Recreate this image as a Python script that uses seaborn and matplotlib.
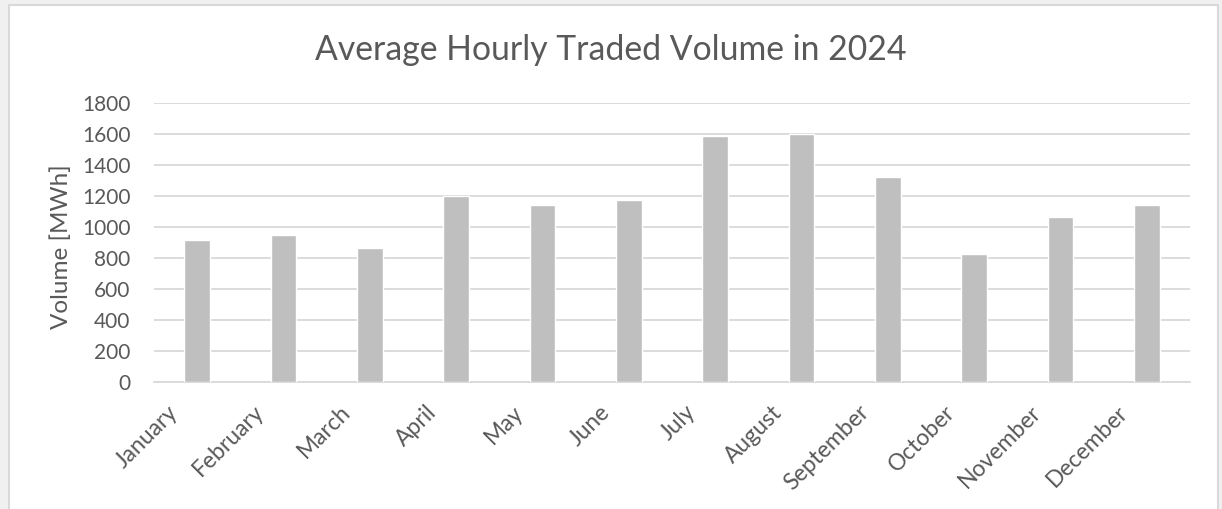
import matplotlib
matplotlib.use("Agg")
import matplotlib.pyplot as plt
import matplotlib.transforms as mtransforms
import seaborn as sns
import pandas as pd
from matplotlib.patches import Rectangle

months = ["January", "February", "March", "April", "May", "June",
          "July", "August", "September", "October", "November", "December"]
volume = [916, 948, 867, 1200, 1140, 1174, 1589, 1600, 1323, 826, 1067, 1140]
y_ticks = [0, 200, 400, 600, 800, 1000, 1200, 1400, 1600, 1800]

df = pd.DataFrame({"month": months, "volume": volume})

sns.set_theme(style="white")
plt.rcParams["font.family"] = ["Lato", "DejaVu Sans"]

text_col = "#595959"

fig = plt.figure(figsize=(12.22, 5.09), dpi=100, facecolor="#f0f0f0")
# white chart box with light border, behind the axes
fig.patches.append(Rectangle((9 / 1222, -0.05), 1209 / 1222, 1.05 - 5 / 509,
                             transform=fig.transFigure, facecolor="white",
                             edgecolor="#d9d9d9", linewidth=1.5, zorder=-5))

ax = fig.add_axes([154 / 1222, 1 - 382 / 509, 1036 / 1222, 279 / 509])
ax.set_facecolor("none")
ax.set_zorder(2)

sns.barplot(data=df, x="month", y="volume", color="#bfbfbf", width=0.3,
            saturation=1, ax=ax, zorder=3)

ax.set_ylim(0, 1800)
ax.set_xlim(-0.5, 11.5)
ax.set_yticks(y_ticks)
ax.yaxis.grid(True, color="#d9d9d9", linewidth=1.3, zorder=0)
ax.set_axisbelow(True)
for s in ["top", "right", "left"]:
    ax.spines[s].set_visible(False)
ax.spines["bottom"].set_color("#d9d9d9")
ax.spines["bottom"].set_linewidth(1.3)

ax.tick_params(axis="both", length=0, colors=text_col)
ax.tick_params(axis="y", pad=17, labelsize=15)
ax.tick_params(axis="x", pad=14, labelsize=16.5)
shift = mtransforms.ScaledTranslation(-30 / 100, 0, fig.dpi_scale_trans)
for lab in ax.get_xticklabels():
    lab.set_rotation(45)
    lab.set_ha("right")
    lab.set_rotation_mode("anchor")
    lab.set_transform(lab.get_transform() + shift)

ax.set_xlabel("")
ax.set_ylabel("Volume [MWh]", fontsize=17.5, color=text_col)
ax.yaxis.set_label_coords(-0.079, 0.484)

fig.text(0.5, 1 - 50 / 509, "Average Hourly Traded Volume in 2024",
         ha="center", va="center", fontsize=24.3, color=text_col)

fig.savefig("out.png", dpi=100, facecolor=fig.get_facecolor())
